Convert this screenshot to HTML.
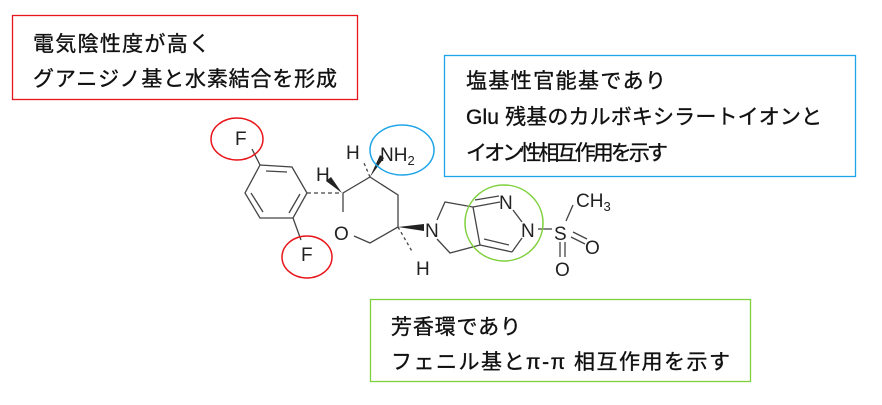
<!DOCTYPE html>
<html><head><meta charset="utf-8"><style>
html,body{margin:0;padding:0;background:#fff;width:882px;height:405px;overflow:hidden}
svg{display:block}
.j{font-family:"Liberation Sans","Noto Sans CJK JP",sans-serif;font-size:21px;fill:#111;stroke:#111;stroke-width:0.35}
.a{font-family:"Liberation Sans",sans-serif;font-size:19px;fill:#222}
</style></head><body>
<svg width="882" height="405" viewBox="0 0 882 405" xmlns="http://www.w3.org/2000/svg">
<rect x="12.5" y="15.5" width="345" height="84" fill="none" stroke="#e8161b" stroke-width="1.3"/>
<text class="j" x="33" y="51" textLength="177">電気陰性度が高く</text>
<text class="j" x="33" y="86" textLength="304">グアニジノ基と水素結合を形成</text>
<rect x="444.5" y="55.5" width="411" height="121" fill="none" stroke="#1ea4e8" stroke-width="1.3"/>
<text class="j" x="466" y="88" textLength="200">塩基性官能基であり</text>
<text class="j" x="466" y="124" textLength="356">Glu 残基のカルボキシラートイオンと</text>
<text class="j" x="466" y="160" textLength="202">イオン性相互作用を示す</text>
<rect x="370.5" y="299.5" width="380" height="82" fill="none" stroke="#7ed03c" stroke-width="1.3"/>
<text class="j" x="391" y="334" textLength="130">芳香環であり</text>
<text class="j" x="391" y="369" textLength="339">フェニル基とπ-π 相互作用を示す</text>

<g stroke="#444" stroke-width="1.3" fill="none">
<polygon points="260,165 292,167 307,193 293,218 260,218 245,193"/>
<line x1="266" y1="171" x2="287" y2="172"/>
<line x1="300" y1="194" x2="289" y2="213"/>
<line x1="251" y1="193" x2="263" y2="212"/>
<line x1="260" y1="165" x2="252" y2="149"/>
<line x1="293" y1="218" x2="301" y2="240"/>
<line x1="307" y1="193" x2="342" y2="193" stroke-dasharray="4,3"/>
<polyline points="343,212 343,193 370,177 398,195 398,227 370,243 354,236"/>
<line x1="370" y1="177" x2="364" y2="163" stroke-dasharray="3,3"/>
<line x1="398" y1="227" x2="413" y2="253" stroke-dasharray="3,3"/>
<polyline points="437,220 445,202 473,207 480,245 450,253 437,239"/>
<line x1="473" y1="207" x2="500" y2="202"/>
<line x1="475" y1="200" x2="499" y2="196"/>
<line x1="513" y1="210" x2="522" y2="222"/>
<line x1="480" y1="245" x2="512" y2="252"/>
<line x1="484" y1="239" x2="509" y2="245"/>
<line x1="512" y1="252" x2="522" y2="238"/>
<line x1="538" y1="229" x2="552" y2="229"/>
<line x1="566" y1="221" x2="573" y2="205"/>
<line x1="571" y1="237" x2="585" y2="244"/>
<line x1="573" y1="232" x2="587" y2="239"/>
<line x1="560" y1="242" x2="560" y2="257"/>
<line x1="565" y1="242" x2="565" y2="257"/>
</g>
<polygon points="342,193 326,181 331,177" fill="#222"/>
<polygon points="370,177 380,155 384,158" fill="#222"/>
<polygon points="398,227 424,224 424,231" fill="#222"/>
<text class="a" x="235" y="145">F</text>
<text class="a" x="301" y="261">F</text>
<text class="a" x="316" y="181">H</text>
<text class="a" x="346" y="159">H</text>
<text class="a" x="334" y="240">O</text>
<text class="a" x="380" y="161">NH<tspan font-size="13" dy="4">2</tspan></text>
<text class="a" x="425" y="237">N</text>
<text class="a" x="416" y="275">H</text>
<text class="a" x="499" y="209">N</text>
<text class="a" x="521" y="237">N</text>
<text class="a" x="554" y="240">S</text>
<text class="a" x="576" y="207">CH<tspan font-size="13" dy="4">3</tspan></text>
<text class="a" x="585" y="254">O</text>
<text class="a" x="555" y="276">O</text>
<ellipse cx="237" cy="139" rx="26" ry="21" fill="none" stroke="#e8161b" stroke-width="1.5"/>
<ellipse cx="307" cy="257" rx="25" ry="21" fill="none" stroke="#e8161b" stroke-width="1.5"/>
<ellipse cx="402" cy="150" rx="32" ry="25" fill="none" stroke="#1ea4e8" stroke-width="1.5"/>
<ellipse cx="504" cy="223" rx="39" ry="38" fill="none" stroke="#7ed03c" stroke-width="1.5"/>
</svg>
</body></html>
